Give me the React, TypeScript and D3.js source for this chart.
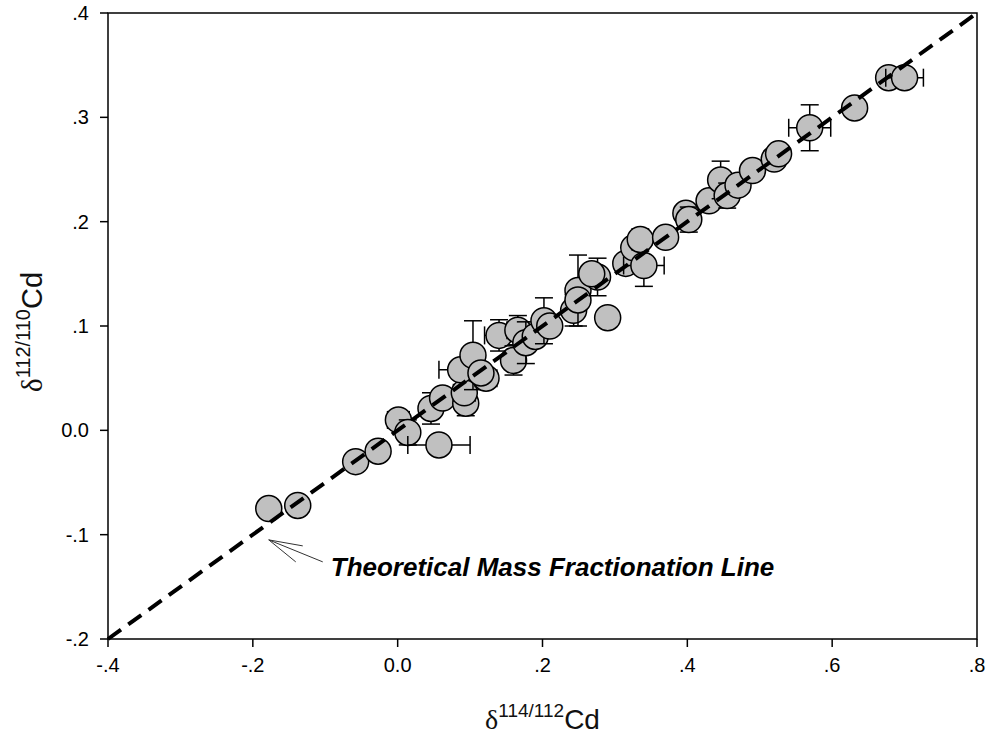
import React from "react"
import * as d3 from "d3"

// delta 114/112 Cd (x), delta 112/110 Cd (y), with 2sd error bars
const xVals = [-0.178, -0.138, -0.058, -0.027, 0.001, 0.014, 0.057, 0.046, 0.062, 0.094, 0.092, 0.087, 0.104, 0.122, 0.115, 0.14, 0.16, 0.166, 0.177, 0.19, 0.202, 0.21, 0.243, 0.249, 0.249, 0.276, 0.268, 0.29, 0.315, 0.326, 0.34, 0.335, 0.37, 0.398, 0.402, 0.43, 0.446, 0.455, 0.47, 0.49, 0.52, 0.526, 0.569, 0.631, 0.678, 0.7]
const yVals = [-0.075, -0.072, -0.03, -0.02, 0.01, -0.002, -0.014, 0.021, 0.031, 0.026, 0.036, 0.058, 0.072, 0.05, 0.055, 0.091, 0.067, 0.096, 0.084, 0.09, 0.105, 0.1, 0.115, 0.134, 0.125, 0.147, 0.15, 0.108, 0.16, 0.175, 0.158, 0.183, 0.185, 0.208, 0.202, 0.22, 0.24, 0.225, 0.235, 0.249, 0.26, 0.265, 0.29, 0.309, 0.338, 0.338]
const xErr = [0, 0, 0, 0, 0.015, 0, 0.043, 0.01, 0, 0, 0.015, 0.03, 0, 0.015, 0, 0.02, 0, 0.015, 0, 0.01, 0, 0, 0.01, 0, 0, 0, 0.01, 0, 0.01, 0, 0.028, 0, 0, 0.01, 0, 0, 0, 0, 0.01, 0, 0.01, 0, 0.029, 0, 0.005, 0.026]
const yErr = [0, 0, 0, 0, 0, 0.012, 0, 0.015, 0, 0.012, 0, 0, 0.033, 0, 0, 0.015, 0.014, 0.014, 0.02, 0, 0.022, 0, 0.015, 0.034, 0, 0.018, 0, 0, 0, 0, 0.02, 0.01, 0, 0, 0.012, 0, 0.018, 0.012, 0, 0, 0, 0, 0.022, 0, 0, 0]

const xTicks = [-0.4, -0.2, 0, 0.2, 0.4, 0.6, 0.8]
const yTicks = [-0.2, -0.1, 0, 0.1, 0.2, 0.3, 0.4]
const lineEnds = [-0.4, 0.8]

const fmt = (v) => {
    if (Math.abs(v) < 1e-9) return "0.0"
    return d3.format(".1f")(v).replace("0.", ".").replace("\u2212", "-")
}

export default function App() {
    const width = 992
    const height = 739
    const margin = { top: 13, right: 15, bottom: 100, left: 108 }
    const x = d3.scaleLinear().domain([-0.4, 0.8]).range([margin.left, width - margin.right])
    const y = d3.scaleLinear().domain([-0.2, 0.4]).range([height - margin.bottom, margin.top])
    const cap = 9
    const r = 13

    const line = d3.line()
        .x(d => x(d))
        .y(d => y(d / 2))

    // arrow pointing at the line
    const tipX = x(-0.178), tipY = y(-0.105)

    return (
        <svg width={width} height={height} style={{ position: "absolute", left: 0, top: 0, background: "#fff" }}
            fontFamily="'Liberation Sans', Arial, sans-serif">
            <rect x={x(-0.4)} y={y(0.4)} width={x(0.8) - x(-0.4)} height={y(-0.2) - y(0.4)}
                fill="none" stroke="#000" strokeWidth={1.5} />
            {xTicks.map(t => (
                <g key={"x" + t}>
                    <line x1={x(t)} x2={x(t)} y1={y(-0.2)} y2={y(-0.2) + 8} stroke="#000" strokeWidth={1.5} />
                    <text x={x(t)} y={y(-0.2) + 33} textAnchor="middle" fontSize={20} fill="#000">{fmt(t)}</text>
                </g>
            ))}
            {yTicks.map(t => (
                <g key={"y" + t}>
                    <line x1={x(-0.4) - 8} x2={x(-0.4)} y1={y(t)} y2={y(t)} stroke="#000" strokeWidth={1.5} />
                    <text x={x(-0.4) - 19} y={y(t) + 7} textAnchor="end" fontSize={20} fill="#000">{fmt(t)}</text>
                </g>
            ))}
            {xVals.map((xv, i) => {
                const cx = x(xv), cy = y(yVals[i])
                const ex = xErr[i], ey = yErr[i]
                return (
                    <g key={"p" + i} stroke="#000" strokeWidth={1.5}>
                        {ex > 0 && (
                            <g>
                                <line x1={x(xv - ex)} x2={x(xv + ex)} y1={cy} y2={cy} />
                                <line x1={x(xv - ex)} x2={x(xv - ex)} y1={cy - cap} y2={cy + cap} />
                                <line x1={x(xv + ex)} x2={x(xv + ex)} y1={cy - cap} y2={cy + cap} />
                            </g>
                        )}
                        {ey > 0 && (
                            <g>
                                <line x1={cx} x2={cx} y1={y(yVals[i] - ey)} y2={y(yVals[i] + ey)} />
                                <line x1={cx - cap} x2={cx + cap} y1={y(yVals[i] - ey)} y2={y(yVals[i] - ey)} />
                                <line x1={cx - cap} x2={cx + cap} y1={y(yVals[i] + ey)} y2={y(yVals[i] + ey)} />
                            </g>
                        )}
                        <circle cx={cx} cy={cy} r={r} fill="#c0c0c0" />
                    </g>
                )
            })}
            <path d={line(lineEnds)} fill="none" stroke="#000" strokeWidth={4} strokeDasharray="16,9" />
            <g stroke="#333" strokeWidth={1} fill="none">
                <line x1={tipX} y1={tipY} x2={tipX + 54} y2={tipY + 22} />
                <line x1={tipX} y1={tipY} x2={tipX + 34} y2={tipY + 6} />
                <line x1={tipX} y1={tipY} x2={tipX + 27} y2={tipY + 22} />
            </g>
            <text x={tipX + 62} y={tipY + 36} fontSize={26} fontWeight="bold" fontStyle="italic" fill="#000">
                Theoretical Mass Fractionation Line
            </text>
            <text x={(x(-0.4) + x(0.8)) / 2} y={729} textAnchor="middle" fontSize={28} fill="#111">
                <tspan fontFamily="'Liberation Serif', 'DejaVu Serif', serif">δ</tspan>
                <tspan fontSize={19} dy={-12}>114/112</tspan>
                <tspan dy={12}>Cd</tspan>
            </text>
            <text transform={`translate(42, 332)rotate(-90)`} textAnchor="middle" fontSize={29} fill="#111">
                <tspan fontFamily="'Liberation Serif', 'DejaVu Serif', serif">δ</tspan>
                <tspan fontSize={20} dy={-12}>112/110</tspan>
                <tspan dy={12}>Cd</tspan>
            </text>
        </svg>
    )
}
